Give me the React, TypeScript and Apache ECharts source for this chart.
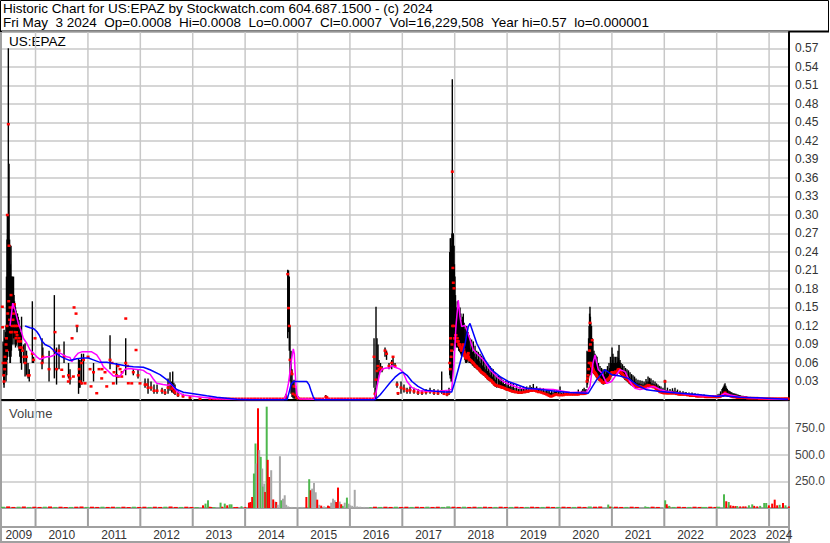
import React, { useEffect, useRef } from 'react';
import * as echarts from 'echarts';

// ---------- axis setup ----------
const X_MIN = 2009.36;
const X_MAX = 2024.38;
const PRICE_MAX = 0.5964;
const VOL_MAX = 1000;

const yearStarts = [2010, 2011, 2012, 2013, 2014, 2015, 2016, 2017, 2018, 2019, 2020, 2021, 2022, 2023, 2024];
const yearLabels = ['2009', '2010', '2011', '2012', '2013', '2014', '2015', '2016', '2017', '2018', '2019', '2020', '2021', '2022', '2023', '2024'];

const headerLine1 = 'Historic Chart for US:EPAZ by Stockwatch.com 604.687.1500 - (c) 2024';
const headerLine2 = 'Fri May  3 2024  Op=0.0008  Hi=0.0008  Lo=0.0007  Cl=0.0007  Vol=16,229,508  Year hi=0.57  lo=0.000001';

// ---------- price bars: [date, low, high, close] ----------
const bars2009 = [
  [2009.366, 0.151, 0.151, 0.151], [2009.372, 0.118, 0.118, 0.118],
  [2009.380, 0.040, 0.095, 0.060], [2009.392, 0.025, 0.090, 0.040], [2009.399, 0.020, 0.114, 0.030],
  [2009.410, 0.030, 0.100, 0.050], [2009.418, 0.045, 0.080, 0.070], [2009.428, 0.050, 0.110, 0.060],
  [2009.437, 0.030, 0.120, 0.090], [2009.445, 0.060, 0.200, 0.100], [2009.450, 0.040, 0.110, 0.080],
  [2009.456, 0.065, 0.260, 0.120], [2009.462, 0.070, 0.300, 0.300], [2009.470, 0.070, 0.300, 0.140],
  [2009.481, 0.080, 0.570, 0.447], [2009.488, 0.080, 0.300, 0.160], [2009.494, 0.080, 0.383, 0.250],
  [2009.505, 0.070, 0.260, 0.130], [2009.513, 0.060, 0.251, 0.150], [2009.520, 0.060, 0.220, 0.110],
  [2009.532, 0.070, 0.250, 0.170], [2009.540, 0.080, 0.200, 0.110], [2009.548, 0.090, 0.200, 0.120],
  [2009.561, 0.113, 0.200, 0.150], [2009.570, 0.090, 0.190, 0.130], [2009.580, 0.100, 0.200, 0.140],
  [2009.590, 0.100, 0.170, 0.120], [2009.599, 0.114, 0.160, 0.155], [2009.608, 0.090, 0.155, 0.110],
  [2009.618, 0.085, 0.150, 0.120], [2009.628, 0.088, 0.145, 0.100], [2009.637, 0.090, 0.140, 0.110],
  [2009.646, 0.095, 0.140, 0.105], [2009.656, 0.100, 0.140, 0.120], [2009.670, 0.085, 0.135, 0.095],
  [2009.685, 0.080, 0.130, 0.100], [2009.700, 0.070, 0.120, 0.085], [2009.714, 0.060, 0.110, 0.095],
  [2009.733, 0.049, 0.135, 0.085], [2009.752, 0.080, 0.080, 0.080], [2009.775, 0.060, 0.090, 0.070],
  [2009.800, 0.038, 0.092, 0.060], [2009.828, 0.040, 0.080, 0.070], [2009.857, 0.035, 0.060, 0.040],
  [2009.880, 0.030, 0.050, 0.040], [2009.939, 0.060, 0.160, 0.075], [2009.962, 0.060, 0.070, 0.065],
  [2009.990, 0.100, 0.100, 0.100],
];

const bars2010 = [
  [2010.124, 0.050, 0.100, 0.060], [2010.140, 0.060, 0.085, 0.070], [2010.258, 0.030, 0.080, 0.050],
  [2010.359, 0.035, 0.170, 0.080], [2010.372, 0.110, 0.110, 0.110], [2010.401, 0.025, 0.085, 0.050],
  [2010.448, 0.050, 0.090, 0.080], [2010.500, 0.049, 0.049, 0.049], [2010.531, 0.038, 0.038, 0.038],
  [2010.544, 0.060, 0.095, 0.070], [2010.626, 0.030, 0.030, 0.030], [2010.630, 0.035, 0.060, 0.040],
  [2010.658, 0.025, 0.050, 0.035], [2010.697, 0.100, 0.100, 0.100], [2010.722, 0.038, 0.038, 0.038],
  [2010.735, 0.150, 0.150, 0.150], [2010.773, 0.140, 0.140, 0.140], [2010.792, 0.110, 0.120, 0.120],
  [2010.821, 0.010, 0.068, 0.040], [2010.835, 0.020, 0.065, 0.050], [2010.849, 0.020, 0.065, 0.030],
  [2010.878, 0.025, 0.075, 0.060], [2010.882, 0.027, 0.027, 0.027], [2010.916, 0.030, 0.075, 0.065],
  [2010.945, 0.027, 0.027, 0.027], [2011.002, 0.070, 0.070, 0.070], [2011.040, 0.050, 0.050, 0.050],
  [2011.059, 0.022, 0.022, 0.022], [2011.107, 0.030, 0.060, 0.045], [2011.168, 0.011, 0.011, 0.011],
  [2011.212, 0.050, 0.050, 0.050], [2011.263, 0.035, 0.035, 0.035], [2011.269, 0.050, 0.050, 0.050],
  [2011.326, 0.038, 0.038, 0.045], [2011.359, 0.022, 0.022, 0.022], [2011.422, 0.050, 0.105, 0.065],
  [2011.460, 0.060, 0.060, 0.060], [2011.485, 0.027, 0.027, 0.027], [2011.498, 0.045, 0.045, 0.045],
  [2011.546, 0.025, 0.060, 0.040], [2011.574, 0.055, 0.055, 0.055], [2011.580, 0.038, 0.038, 0.038],
  [2011.613, 0.050, 0.050, 0.050], [2011.645, 0.038, 0.038, 0.038], [2011.651, 0.045, 0.045, 0.045],
  [2011.721, 0.040, 0.100, 0.060], [2011.722, 0.132, 0.132, 0.132], [2011.756, 0.055, 0.055, 0.055],
  [2011.771, 0.027, 0.027, 0.027], [2011.836, 0.027, 0.027, 0.027], [2011.866, 0.040, 0.050, 0.045],
  [2011.918, 0.081, 0.081, 0.081], [2011.956, 0.035, 0.050, 0.040], [2011.994, 0.027, 0.027, 0.027],
  [2012.090, 0.020, 0.035, 0.025], [2012.122, 0.025, 0.025, 0.025], [2012.147, 0.010, 0.035, 0.020],
  [2012.204, 0.015, 0.030, 0.020], [2012.261, 0.010, 0.025, 0.015], [2012.319, 0.010, 0.025, 0.015],
  [2012.414, 0.010, 0.020, 0.015], [2012.471, 0.008, 0.018, 0.012], [2012.529, 0.010, 0.035, 0.020],
  [2012.567, 0.015, 0.045, 0.025], [2012.600, 0.012, 0.030, 0.018], [2012.618, 0.012, 0.046, 0.020],
  [2012.640, 0.010, 0.028, 0.015], [2012.662, 0.008, 0.025, 0.012], [2012.719, 0.005, 0.015, 0.008],
  [2012.815, 0.004, 0.010, 0.006], [2012.948, 0.002, 0.006, 0.004], [2013.139, 0.002, 0.003, 0.002],
  [2013.330, 0.002, 0.002, 0.002],
];

const barsFlat = [
  [2013.40, 0.002, 0.002, 0.002], [2013.46, 0.002, 0.002, 0.002], [2013.52, 0.002, 0.002, 0.002],
  [2013.58, 0.002, 0.002, 0.002], [2013.64, 0.002, 0.002, 0.002], [2013.70, 0.002, 0.002, 0.002],
  [2013.76, 0.002, 0.002, 0.002], [2013.82, 0.002, 0.002, 0.002], [2013.88, 0.002, 0.002, 0.002],
  [2013.94, 0.002, 0.002, 0.002], [2014.00, 0.002, 0.002, 0.002], [2014.06, 0.002, 0.002, 0.002],
  [2014.12, 0.002, 0.002, 0.002], [2014.18, 0.002, 0.002, 0.002], [2014.24, 0.002, 0.002, 0.002],
  [2014.30, 0.002, 0.002, 0.002], [2014.36, 0.002, 0.002, 0.002], [2014.42, 0.002, 0.002, 0.002],
  [2014.48, 0.002, 0.002, 0.002], [2014.54, 0.002, 0.002, 0.002], [2014.60, 0.002, 0.002, 0.002],
  [2014.66, 0.002, 0.002, 0.002], [2014.72, 0.002, 0.002, 0.002],
  [2015.06, 0.002, 0.002, 0.002], [2015.12, 0.002, 0.002, 0.002], [2015.18, 0.002, 0.002, 0.002],
  [2015.24, 0.002, 0.002, 0.002], [2015.30, 0.002, 0.002, 0.002], [2015.36, 0.002, 0.002, 0.002],
  [2015.42, 0.002, 0.002, 0.002], [2015.48, 0.002, 0.002, 0.002], [2015.60, 0.002, 0.002, 0.002],
  [2015.66, 0.002, 0.002, 0.002], [2015.72, 0.002, 0.002, 0.002], [2015.78, 0.002, 0.002, 0.002],
  [2015.84, 0.002, 0.002, 0.002], [2015.90, 0.002, 0.002, 0.002], [2015.96, 0.002, 0.002, 0.002],
  [2016.02, 0.002, 0.002, 0.002], [2016.08, 0.002, 0.002, 0.002], [2016.14, 0.002, 0.002, 0.002],
  [2016.20, 0.002, 0.002, 0.002], [2016.26, 0.002, 0.002, 0.002], [2016.32, 0.002, 0.002, 0.002],
  [2016.38, 0.002, 0.002, 0.002], [2016.44, 0.002, 0.002, 0.002],
];

const bars2014 = [
  [2014.781, 0.000, 0.010, 0.005], [2014.813, 0.100, 0.211, 0.204], [2014.828, 0.110, 0.210, 0.149],
  [2014.843, 0.080, 0.200, 0.120], [2014.857, 0.030, 0.120, 0.065], [2014.876, 0.010, 0.080, 0.046],
  [2014.895, 0.005, 0.050, 0.042], [2014.914, 0.003, 0.030, 0.010], [2014.933, 0.002, 0.033, 0.022],
  [2014.952, 0.002, 0.020, 0.008], [2014.981, 0.001, 0.010, 0.004], [2015.010, 0.000, 0.006, 0.003],
  [2015.540, 0.002, 0.008, 0.005], [2015.560, 0.002, 0.006, 0.004],
];

const bars2016 = [
  [2016.460, 0.020, 0.100, 0.070], [2016.479, 0.000, 0.020, 0.010], [2016.498, 0.000, 0.151, 0.033],
  [2016.517, 0.024, 0.100, 0.047], [2016.536, 0.030, 0.090, 0.055], [2016.556, 0.040, 0.065, 0.050],
  [2016.584, 0.045, 0.060, 0.052], [2016.613, 0.045, 0.055, 0.050], [2016.670, 0.070, 0.085, 0.080],
  [2016.699, 0.065, 0.080, 0.075], [2016.746, 0.050, 0.060, 0.055], [2016.798, 0.050, 0.065, 0.060],
  [2016.823, 0.055, 0.068, 0.070], [2016.861, 0.052, 0.060, 0.055], [2016.899, 0.020, 0.030, 0.025],
  [2016.918, 0.008, 0.012, 0.011], [2016.975, 0.010, 0.030, 0.020], [2017.032, 0.012, 0.025, 0.018],
  [2017.090, 0.010, 0.020, 0.015], [2017.147, 0.010, 0.022, 0.016], [2017.223, 0.010, 0.020, 0.014],
  [2017.300, 0.008, 0.018, 0.012], [2017.376, 0.008, 0.016, 0.012], [2017.452, 0.009, 0.018, 0.013],
  [2017.529, 0.010, 0.020, 0.014], [2017.605, 0.008, 0.018, 0.012], [2017.681, 0.008, 0.017, 0.011],
  [2017.752, 0.010, 0.046, 0.014], [2017.796, 0.008, 0.016, 0.010], [2017.853, 0.006, 0.014, 0.009],
  [2017.891, 0.008, 0.020, 0.012],
];

const bars2018 = [
  [2017.905, 0.040, 0.240, 0.060], [2017.915, 0.035, 0.262, 0.050], [2017.923, 0.035, 0.262, 0.100],
  [2017.932, 0.030, 0.250, 0.070], [2017.940, 0.030, 0.200, 0.080], [2017.947, 0.035, 0.270, 0.090],
  [2017.954, 0.035, 0.520, 0.370], [2017.960, 0.060, 0.270, 0.120], [2017.965, 0.100, 0.270, 0.214],
  [2017.973, 0.100, 0.270, 0.190], [2017.980, 0.090, 0.250, 0.120], [2017.986, 0.080, 0.250, 0.181],
  [2017.995, 0.085, 0.220, 0.100], [2018.005, 0.090, 0.200, 0.100], [2018.015, 0.095, 0.170, 0.105],
  [2018.024, 0.100, 0.140, 0.105], [2018.037, 0.085, 0.150, 0.095], [2018.049, 0.090, 0.160, 0.100],
  [2018.058, 0.085, 0.130, 0.095], [2018.068, 0.085, 0.155, 0.095], [2018.077, 0.080, 0.120, 0.090],
  [2018.085, 0.080, 0.150, 0.090], [2018.093, 0.078, 0.125, 0.088], [2018.101, 0.080, 0.150, 0.090],
  [2018.109, 0.076, 0.115, 0.085], [2018.117, 0.075, 0.140, 0.085], [2018.125, 0.072, 0.110, 0.082],
  [2018.133, 0.070, 0.130, 0.080], [2018.141, 0.072, 0.112, 0.082], [2018.149, 0.075, 0.135, 0.085],
  [2018.157, 0.078, 0.118, 0.088], [2018.164, 0.080, 0.140, 0.090], [2018.172, 0.075, 0.110, 0.082],
  [2018.180, 0.070, 0.125, 0.078], [2018.188, 0.068, 0.100, 0.075], [2018.196, 0.065, 0.115, 0.072],
  [2018.205, 0.062, 0.095, 0.070], [2018.213, 0.060, 0.120, 0.068], [2018.221, 0.060, 0.095, 0.068],
  [2018.229, 0.060, 0.120, 0.068], [2018.237, 0.062, 0.092, 0.070], [2018.244, 0.065, 0.110, 0.072],
  [2018.252, 0.068, 0.090, 0.074], [2018.259, 0.070, 0.110, 0.076], [2018.267, 0.065, 0.088, 0.070],
  [2018.275, 0.060, 0.105, 0.066], [2018.283, 0.060, 0.085, 0.065], [2018.292, 0.060, 0.100, 0.065],
  [2018.307, 0.059, 0.082, 0.064], [2018.323, 0.058, 0.098, 0.063], [2018.339, 0.056, 0.078, 0.061],
  [2018.355, 0.055, 0.095, 0.060], [2018.371, 0.053, 0.075, 0.058], [2018.388, 0.052, 0.088, 0.056],
  [2018.404, 0.051, 0.070, 0.055], [2018.420, 0.050, 0.080, 0.054], [2018.436, 0.049, 0.066, 0.052],
  [2018.451, 0.048, 0.078, 0.051], [2018.467, 0.046, 0.063, 0.050], [2018.483, 0.045, 0.075, 0.048],
  [2018.499, 0.043, 0.060, 0.046], [2018.515, 0.042, 0.072, 0.045], [2018.531, 0.041, 0.056, 0.044],
  [2018.546, 0.040, 0.070, 0.043], [2018.562, 0.039, 0.053, 0.042], [2018.578, 0.038, 0.065, 0.041],
  [2018.594, 0.036, 0.050, 0.039], [2018.611, 0.035, 0.060, 0.038], [2018.626, 0.033, 0.047, 0.036],
  [2018.642, 0.032, 0.058, 0.035], [2018.658, 0.031, 0.044, 0.034], [2018.674, 0.030, 0.055, 0.033],
  [2018.690, 0.029, 0.041, 0.032], [2018.705, 0.028, 0.052, 0.031], [2018.720, 0.026, 0.038, 0.029],
  [2018.736, 0.025, 0.050, 0.028], [2018.752, 0.023, 0.035, 0.026], [2018.768, 0.022, 0.045, 0.025],
  [2018.785, 0.021, 0.033, 0.024], [2018.801, 0.020, 0.040, 0.023], [2018.833, 0.020, 0.040, 0.023],
  [2018.849, 0.020, 0.031, 0.022], [2018.865, 0.020, 0.038, 0.022], [2018.880, 0.019, 0.029, 0.021],
  [2018.896, 0.019, 0.035, 0.021], [2018.912, 0.018, 0.027, 0.020], [2018.927, 0.018, 0.032, 0.020],
  [2018.951, 0.017, 0.026, 0.019], [2018.975, 0.016, 0.031, 0.018], [2018.999, 0.015, 0.024, 0.017],
  [2019.023, 0.015, 0.030, 0.017], [2019.047, 0.014, 0.022, 0.016], [2019.070, 0.013, 0.028, 0.015],
  [2019.094, 0.012, 0.021, 0.014], [2019.118, 0.012, 0.026, 0.014], [2019.150, 0.011, 0.020, 0.013],
  [2019.182, 0.011, 0.024, 0.013], [2019.214, 0.010, 0.018, 0.012], [2019.246, 0.010, 0.022, 0.012],
  [2019.278, 0.010, 0.018, 0.012], [2019.310, 0.011, 0.022, 0.013], [2019.342, 0.011, 0.019, 0.013],
  [2019.374, 0.012, 0.022, 0.014], [2019.405, 0.012, 0.020, 0.014], [2019.437, 0.013, 0.024, 0.015],
  [2019.468, 0.013, 0.021, 0.015], [2019.500, 0.014, 0.026, 0.016], [2019.532, 0.013, 0.020, 0.015],
  [2019.564, 0.013, 0.022, 0.014], [2019.596, 0.012, 0.018, 0.013], [2019.628, 0.012, 0.020, 0.013],
  [2019.660, 0.011, 0.016, 0.012], [2019.692, 0.010, 0.019, 0.011], [2019.724, 0.009, 0.015, 0.010],
  [2019.756, 0.008, 0.018, 0.009], [2019.780, 0.007, 0.014, 0.008], [2019.803, 0.006, 0.016, 0.007],
  [2019.827, 0.005, 0.012, 0.006], [2019.851, 0.005, 0.015, 0.006], [2019.875, 0.006, 0.012, 0.007],
  [2019.899, 0.007, 0.016, 0.008], [2019.923, 0.008, 0.013, 0.009], [2019.947, 0.008, 0.016, 0.009],
  [2019.978, 0.007, 0.013, 0.008], [2020.010, 0.007, 0.022, 0.008], [2020.041, 0.007, 0.012, 0.008],
  [2020.073, 0.007, 0.014, 0.008], [2020.105, 0.008, 0.012, 0.009], [2020.136, 0.008, 0.013, 0.009],
  [2020.168, 0.008, 0.012, 0.009], [2020.200, 0.008, 0.013, 0.009], [2020.232, 0.008, 0.012, 0.009],
  [2020.264, 0.008, 0.013, 0.009], [2020.296, 0.008, 0.012, 0.009], [2020.328, 0.008, 0.013, 0.009],
  [2020.359, 0.008, 0.017, 0.009], [2020.390, 0.009, 0.013, 0.010], [2020.420, 0.009, 0.015, 0.010],
  [2020.445, 0.009, 0.018, 0.010], [2020.470, 0.009, 0.020, 0.010], [2020.490, 0.010, 0.016, 0.011],
  [2020.505, 0.010, 0.018, 0.011],
];

const bars2020 = [
  [2020.525, 0.020, 0.080, 0.030], [2020.535, 0.025, 0.078, 0.035], [2020.545, 0.030, 0.076, 0.040],
  [2020.555, 0.035, 0.100, 0.050], [2020.565, 0.040, 0.120, 0.060], [2020.574, 0.040, 0.140, 0.080],
  [2020.582, 0.040, 0.151, 0.125], [2020.590, 0.045, 0.135, 0.090], [2020.597, 0.050, 0.125, 0.060],
  [2020.604, 0.050, 0.100, 0.058], [2020.611, 0.050, 0.120, 0.055], [2020.618, 0.048, 0.090, 0.055],
  [2020.625, 0.045, 0.100, 0.097], [2020.632, 0.045, 0.080, 0.052], [2020.639, 0.045, 0.095, 0.050],
  [2020.648, 0.043, 0.070, 0.048], [2020.658, 0.042, 0.080, 0.046], [2020.667, 0.041, 0.065, 0.045],
  [2020.677, 0.040, 0.075, 0.044], [2020.687, 0.039, 0.060, 0.043], [2020.697, 0.038, 0.072, 0.042],
  [2020.706, 0.036, 0.058, 0.040], [2020.716, 0.035, 0.070, 0.039], [2020.730, 0.034, 0.052, 0.037],
  [2020.745, 0.032, 0.060, 0.035], [2020.759, 0.031, 0.048, 0.034], [2020.773, 0.030, 0.055, 0.033],
  [2020.788, 0.029, 0.045, 0.032], [2020.802, 0.028, 0.052, 0.031], [2020.816, 0.026, 0.042, 0.029],
  [2020.830, 0.025, 0.050, 0.028], [2020.845, 0.025, 0.040, 0.028], [2020.859, 0.026, 0.050, 0.028],
  [2020.873, 0.027, 0.042, 0.029], [2020.888, 0.028, 0.050, 0.030], [2020.902, 0.029, 0.045, 0.032],
  [2020.916, 0.030, 0.055, 0.033], [2020.930, 0.030, 0.048, 0.034], [2020.945, 0.030, 0.060, 0.035],
  [2020.959, 0.032, 0.052, 0.037], [2020.973, 0.035, 0.070, 0.040], [2020.988, 0.038, 0.060, 0.043],
  [2021.002, 0.040, 0.085, 0.045], [2021.011, 0.040, 0.065, 0.044], [2021.020, 0.040, 0.075, 0.044],
  [2021.030, 0.040, 0.060, 0.044], [2021.040, 0.040, 0.070, 0.044], [2021.054, 0.041, 0.060, 0.045],
  [2021.068, 0.042, 0.070, 0.046], [2021.083, 0.041, 0.060, 0.045], [2021.097, 0.040, 0.070, 0.045],
  [2021.107, 0.042, 0.062, 0.047], [2021.117, 0.045, 0.080, 0.049], [2021.126, 0.045, 0.068, 0.049],
  [2021.136, 0.045, 0.089, 0.050], [2021.145, 0.043, 0.062, 0.048], [2021.155, 0.042, 0.065, 0.046],
  [2021.164, 0.041, 0.055, 0.045], [2021.174, 0.040, 0.060, 0.044], [2021.188, 0.039, 0.052, 0.043],
  [2021.202, 0.038, 0.058, 0.042], [2021.217, 0.036, 0.048, 0.040], [2021.231, 0.035, 0.055, 0.039],
  [2021.245, 0.033, 0.045, 0.037], [2021.260, 0.032, 0.052, 0.036], [2021.274, 0.031, 0.043, 0.035],
  [2021.288, 0.030, 0.050, 0.034], [2021.303, 0.029, 0.041, 0.033], [2021.317, 0.028, 0.048, 0.032],
  [2021.331, 0.026, 0.038, 0.030], [2021.346, 0.025, 0.045, 0.029], [2021.360, 0.024, 0.035, 0.028],
  [2021.375, 0.024, 0.042, 0.027], [2021.389, 0.023, 0.033, 0.026], [2021.403, 0.022, 0.040, 0.025],
  [2021.418, 0.021, 0.031, 0.024], [2021.432, 0.021, 0.038, 0.024], [2021.446, 0.020, 0.029, 0.023],
  [2021.460, 0.020, 0.035, 0.023], [2021.479, 0.020, 0.028, 0.022], [2021.498, 0.020, 0.033, 0.022],
  [2021.518, 0.020, 0.027, 0.022], [2021.537, 0.020, 0.032, 0.022], [2021.556, 0.019, 0.026, 0.021],
  [2021.575, 0.019, 0.031, 0.021], [2021.594, 0.018, 0.025, 0.020], [2021.613, 0.018, 0.030, 0.020],
  [2021.632, 0.019, 0.027, 0.021], [2021.651, 0.020, 0.034, 0.022], [2021.670, 0.021, 0.030, 0.023],
  [2021.690, 0.022, 0.038, 0.024], [2021.704, 0.021, 0.030, 0.024], [2021.718, 0.021, 0.036, 0.023],
  [2021.732, 0.020, 0.029, 0.022], [2021.746, 0.020, 0.035, 0.022], [2021.766, 0.020, 0.027, 0.022],
  [2021.785, 0.020, 0.032, 0.021], [2021.804, 0.020, 0.026, 0.021], [2021.823, 0.020, 0.030, 0.021],
  [2021.837, 0.018, 0.024, 0.019], [2021.851, 0.017, 0.027, 0.018], [2021.865, 0.016, 0.022, 0.017],
  [2021.880, 0.015, 0.025, 0.016], [2021.894, 0.014, 0.020, 0.015], [2021.908, 0.013, 0.023, 0.014],
  [2021.922, 0.012, 0.018, 0.013], [2021.937, 0.012, 0.022, 0.013], [2021.956, 0.011, 0.017, 0.012],
  [2021.975, 0.011, 0.020, 0.012], [2021.994, 0.010, 0.016, 0.011], [2022.013, 0.010, 0.033, 0.030],
  [2022.036, 0.010, 0.016, 0.011], [2022.060, 0.010, 0.020, 0.011], [2022.084, 0.010, 0.015, 0.011],
  [2022.109, 0.010, 0.018, 0.011], [2022.132, 0.010, 0.015, 0.011], [2022.156, 0.010, 0.019, 0.011],
  [2022.180, 0.010, 0.015, 0.011], [2022.204, 0.010, 0.020, 0.011], [2022.228, 0.009, 0.014, 0.010],
  [2022.252, 0.009, 0.017, 0.010], [2022.276, 0.008, 0.013, 0.009], [2022.300, 0.008, 0.015, 0.009],
  [2022.328, 0.008, 0.012, 0.009], [2022.357, 0.008, 0.014, 0.009], [2022.385, 0.008, 0.012, 0.009],
  [2022.414, 0.008, 0.013, 0.009], [2022.442, 0.007, 0.011, 0.008], [2022.471, 0.007, 0.012, 0.008],
  [2022.500, 0.006, 0.010, 0.007], [2022.529, 0.006, 0.012, 0.007], [2022.557, 0.006, 0.010, 0.007],
  [2022.586, 0.006, 0.011, 0.007], [2022.614, 0.005, 0.009, 0.006], [2022.643, 0.005, 0.010, 0.006],
  [2022.672, 0.005, 0.008, 0.006], [2022.700, 0.005, 0.009, 0.006], [2022.729, 0.005, 0.008, 0.006],
  [2022.758, 0.005, 0.009, 0.006], [2022.786, 0.004, 0.007, 0.005], [2022.815, 0.004, 0.008, 0.005],
  [2022.844, 0.004, 0.007, 0.005], [2022.873, 0.004, 0.008, 0.005], [2022.901, 0.004, 0.007, 0.005],
  [2022.930, 0.004, 0.008, 0.005], [2022.958, 0.004, 0.007, 0.005], [2022.987, 0.004, 0.008, 0.005],
  [2023.016, 0.004, 0.009, 0.005], [2023.045, 0.004, 0.010, 0.005], [2023.074, 0.004, 0.014, 0.006],
  [2023.102, 0.005, 0.018, 0.007], [2023.116, 0.005, 0.020, 0.008], [2023.130, 0.006, 0.022, 0.009],
  [2023.145, 0.007, 0.025, 0.010], [2023.159, 0.008, 0.027, 0.012], [2023.174, 0.007, 0.023, 0.010],
  [2023.188, 0.007, 0.020, 0.009], [2023.202, 0.006, 0.018, 0.008], [2023.216, 0.006, 0.016, 0.008],
  [2023.235, 0.005, 0.015, 0.007], [2023.254, 0.005, 0.014, 0.007], [2023.273, 0.005, 0.013, 0.006],
  [2023.292, 0.005, 0.012, 0.006], [2023.311, 0.004, 0.011, 0.005], [2023.330, 0.004, 0.011, 0.005],
  [2023.349, 0.004, 0.010, 0.005], [2023.368, 0.004, 0.010, 0.005], [2023.387, 0.003, 0.009, 0.004],
  [2023.406, 0.003, 0.009, 0.004], [2023.425, 0.003, 0.008, 0.004], [2023.445, 0.003, 0.008, 0.004],
  [2023.473, 0.003, 0.007, 0.004], [2023.502, 0.003, 0.007, 0.004], [2023.530, 0.003, 0.006, 0.004],
  [2023.559, 0.003, 0.006, 0.004], [2023.588, 0.002, 0.005, 0.003], [2023.616, 0.002, 0.005, 0.003],
  [2023.645, 0.002, 0.005, 0.003], [2023.674, 0.002, 0.005, 0.003], [2023.702, 0.002, 0.004, 0.003],
  [2023.731, 0.002, 0.004, 0.003], [2023.760, 0.002, 0.004, 0.003], [2023.788, 0.002, 0.004, 0.003],
  [2023.817, 0.001, 0.003, 0.002], [2023.846, 0.001, 0.003, 0.002], [2023.874, 0.001, 0.003, 0.002],
  [2023.903, 0.001, 0.003, 0.002], [2023.932, 0.001, 0.003, 0.002], [2023.960, 0.001, 0.003, 0.002],
  [2023.989, 0.001, 0.003, 0.002], [2024.017, 0.001, 0.003, 0.002], [2024.046, 0.001, 0.002, 0.002],
  [2024.074, 0.001, 0.002, 0.002], [2024.103, 0.001, 0.002, 0.002], [2024.131, 0.001, 0.002, 0.002],
  [2024.160, 0.001, 0.002, 0.002], [2024.188, 0.001, 0.002, 0.002], [2024.217, 0.001, 0.002, 0.002],
  [2024.246, 0.001, 0.002, 0.002], [2024.273, 0.001, 0.002, 0.002], [2024.300, 0.001, 0.002, 0.002],
  [2024.320, 0.001, 0.002, 0.002], [2024.341, 0.001, 0.002, 0.002], [2024.365, 0.001, 0.002, 0.002],
];

// ---------- moving averages: [date, value] ----------
const maShort = [
  [2009.513, 0.120], [2009.565, 0.157], [2009.609, 0.146], [2009.672, 0.124], [2009.718, 0.114],
  [2009.767, 0.100], [2009.832, 0.092], [2009.895, 0.081], [2009.958, 0.076], [2010.023, 0.070],
  [2010.086, 0.066], [2010.149, 0.068], [2010.214, 0.070], [2010.277, 0.070], [2010.340, 0.072],
  [2010.405, 0.076], [2010.468, 0.076], [2010.531, 0.073], [2010.595, 0.070], [2010.658, 0.069],
  [2010.691, 0.062], [2010.754, 0.070], [2010.817, 0.076], [2010.882, 0.078], [2010.977, 0.078],
  [2011.072, 0.078], [2011.168, 0.073], [2011.231, 0.065], [2011.294, 0.054], [2011.359, 0.049],
  [2011.422, 0.044], [2011.485, 0.039], [2011.613, 0.039], [2011.708, 0.050], [2011.803, 0.051],
  [2011.899, 0.050], [2011.994, 0.049], [2012.057, 0.048], [2012.122, 0.044], [2012.185, 0.042],
  [2012.248, 0.034], [2012.313, 0.027], [2012.433, 0.025], [2012.529, 0.024], [2012.586, 0.026],
  [2012.643, 0.020], [2012.700, 0.014], [2012.821, 0.008], [2013.139, 0.005], [2013.458, 0.002],
  [2013.903, 0.001], [2014.742, 0.001], [2014.781, 0.008], [2014.825, 0.026], [2014.857, 0.046],
  [2014.885, 0.065], [2014.920, 0.083], [2014.939, 0.075], [2014.952, 0.050], [2014.971, 0.022],
  [2014.990, 0.008], [2015.028, 0.002], [2015.429, 0.001], [2016.460, 0.001], [2016.498, 0.012],
  [2016.536, 0.030], [2016.574, 0.045], [2016.613, 0.050], [2016.689, 0.052], [2016.765, 0.052],
  [2016.798, 0.056], [2016.861, 0.053], [2016.956, 0.050], [2017.013, 0.045], [2017.090, 0.030],
  [2017.185, 0.020], [2017.338, 0.015], [2017.529, 0.014], [2017.719, 0.014], [2017.872, 0.016],
  [2017.943, 0.017], [2017.986, 0.060], [2018.024, 0.120], [2018.068, 0.162], [2018.101, 0.135],
  [2018.133, 0.119], [2018.196, 0.121], [2018.259, 0.107], [2018.355, 0.081], [2018.450, 0.073],
  [2018.546, 0.065], [2018.674, 0.049], [2018.801, 0.038], [2018.927, 0.030], [2019.055, 0.025],
  [2019.246, 0.019], [2019.565, 0.018], [2019.882, 0.017], [2020.200, 0.012], [2020.519, 0.013],
  [2020.582, 0.022], [2020.639, 0.060], [2020.677, 0.073], [2020.741, 0.049], [2020.806, 0.044],
  [2020.901, 0.027], [2020.996, 0.030], [2021.059, 0.038], [2021.155, 0.049], [2021.250, 0.046],
  [2021.313, 0.035], [2021.378, 0.025], [2021.441, 0.019], [2021.537, 0.017], [2021.664, 0.019],
  [2021.790, 0.022], [2021.918, 0.017], [2022.045, 0.014], [2022.300, 0.011], [2022.681, 0.007],
  [2023.063, 0.006], [2023.159, 0.011], [2023.254, 0.008], [2023.445, 0.005], [2023.763, 0.003],
  [2024.080, 0.0015], [2024.361, 0.001],
];

const maLong = [
  [2009.800, 0.120], [2009.895, 0.117], [2009.958, 0.116], [2010.023, 0.111], [2010.072, 0.105],
  [2010.118, 0.096], [2010.181, 0.090], [2010.277, 0.086], [2010.340, 0.081], [2010.405, 0.075],
  [2010.468, 0.071], [2010.563, 0.067], [2010.658, 0.064], [2010.786, 0.067], [2010.912, 0.068],
  [2011.008, 0.068], [2011.103, 0.065], [2011.231, 0.061], [2011.359, 0.061], [2011.485, 0.059],
  [2011.613, 0.057], [2011.740, 0.055], [2011.866, 0.054], [2012.057, 0.053], [2012.122, 0.051],
  [2012.185, 0.049], [2012.376, 0.041], [2012.504, 0.033], [2012.567, 0.028], [2012.694, 0.017],
  [2012.821, 0.0125], [2013.076, 0.0095], [2013.267, 0.007], [2013.458, 0.0046], [2013.649, 0.003],
  [2013.840, 0.0014], [2014.093, 0.0005], [2014.800, 0.0005], [2014.838, 0.012], [2014.876, 0.025],
  [2014.924, 0.030], [2015.176, 0.030], [2015.219, 0.025], [2015.258, 0.015], [2015.296, 0.006],
  [2015.334, 0.0005], [2016.479, 0.0005], [2016.574, 0.008], [2016.670, 0.018], [2016.765, 0.028],
  [2016.861, 0.037], [2016.956, 0.0435], [2017.013, 0.045], [2017.090, 0.040], [2017.185, 0.030],
  [2017.300, 0.022], [2017.433, 0.016], [2017.624, 0.014], [2017.815, 0.013], [2017.943, 0.013],
  [2018.005, 0.030], [2018.101, 0.060], [2018.196, 0.090], [2018.259, 0.119], [2018.292, 0.124],
  [2018.420, 0.092], [2018.578, 0.065], [2018.706, 0.049], [2018.865, 0.038], [2019.023, 0.030],
  [2019.183, 0.025], [2019.374, 0.019], [2019.565, 0.018], [2019.882, 0.0146], [2020.200, 0.012],
  [2020.550, 0.011], [2020.710, 0.033], [2020.868, 0.049], [2020.996, 0.041], [2021.155, 0.039],
  [2021.313, 0.035], [2021.473, 0.0246], [2021.664, 0.0165], [2021.918, 0.0138], [2022.300, 0.011],
  [2022.681, 0.0084], [2023.000, 0.0057], [2023.126, 0.0068], [2023.445, 0.0046], [2023.954, 0.003],
  [2024.361, 0.0014],
];

// ---------- volume: [date, volume, direction u=up d=down n=unchanged] ----------
const volumeMain: [number, number, string][] = [
  [2013.154, 25, 'd'], [2013.202, 41, 'u'], [2013.250, 72, 'u'], [2013.279, 12, 'd'], [2013.311, 10, 'd'],
  [2013.489, 50, 'u'], [2013.521, 12, 'd'], [2013.569, 41, 'u'], [2013.616, 25, 'd'], [2013.664, 34, 'u'],
  [2013.698, 34, 'u'], [2013.750, 8, 'd'], [2013.807, 10, 'd'], [2013.889, 16, 'u'], [2013.960, 10, 'd'],
  [2014.031, 50, 'd'], [2014.061, 56, 'd'], [2014.093, 103, 'd'], [2014.126, 322, 'u'], [2014.156, 603, 'u'],
  [2014.175, 416, 'n'], [2014.204, 932, 'd'], [2014.227, 541, 'n'], [2014.256, 478, 'u'], [2014.284, 369, 'n'],
  [2014.303, 200, 'u'], [2014.323, 228, 'n'], [2014.342, 150, 'd'], [2014.370, 947, 'u'], [2014.389, 450, 'd'],
  [2014.418, 290, 'd'], [2014.456, 353, 'n'], [2014.494, 80, 'd'], [2014.532, 60, 'n'], [2014.551, 56, 'd'],
  [2014.580, 30, 'n'], [2014.622, 484, 'n'], [2014.647, 72, 'u'], [2014.681, 87, 'n'], [2014.714, 119, 'n'],
  [2014.742, 30, 'n'], [2014.781, 15, 'n'], [2014.85, 10, 'n'], [2014.95, 8, 'n'], [2015.05, 10, 'n'],
  [2015.127, 103, 'd'], [2015.181, 269, 'u'], [2015.210, 166, 'd'], [2015.238, 181, 'n'], [2015.273, 234, 'n'],
  [2015.305, 147, 'n'], [2015.334, 78, 'd'], [2015.372, 30, 'n'], [2015.410, 22, 'd'], [2015.467, 15, 'n'],
  [2015.540, 22, 'd'], [2015.573, 16, 'd'], [2015.601, 50, 'n'], [2015.636, 87, 'n'], [2015.668, 72, 'n'],
  [2015.696, 56, 'd'], [2015.731, 191, 'd'], [2015.764, 60, 'n'], [2015.792, 35, 'd'], [2015.821, 20, 'u'],
  [2015.859, 50, 'n'], [2015.901, 97, 'u'], [2015.935, 40, 'n'], [2015.964, 25, 'n'], [2016.002, 20, 'n'],
  [2016.050, 170, 'n'], [2016.098, 15, 'n'], [2016.155, 12, 'n'], [2016.231, 10, 'n'], [2016.308, 8, 'n'],
  [2020.888, 32, 'u'], [2020.926, 12, 'd'], [2021.594, 15, 'u'], [2021.727, 10, 'd'], [2021.975, 72, 'u'],
  [2022.004, 35, 'd'], [2022.052, 20, 'u'], [2022.681, 10, 'u'],
  [2023.098, 128, 'u'], [2023.140, 63, 'd'], [2023.188, 56, 'u'], [2023.222, 25, 'd'], [2023.273, 20, 'd'],
  [2023.317, 18, 'd'], [2023.350, 18, 'u'], [2023.407, 15, 'd'], [2023.464, 15, 'd'], [2023.508, 15, 'd'],
  [2023.573, 25, 'u'], [2023.636, 34, 'u'], [2023.674, 20, 'd'], [2023.731, 15, 'd'], [2023.788, 20, 'u'],
  [2023.865, 47, 'u'], [2023.903, 47, 'u'], [2023.954, 25, 'd'], [2024.017, 41, 'd'], [2024.065, 78, 'd'],
  [2024.112, 25, 'd'], [2024.160, 30, 'u'], [2024.223, 47, 'd'], [2024.271, 25, 'u'], [2024.336, 15, 'd'],
];

const volumeBase: [number, number, string][] = [
  [2009.40, 12, 'u'], [2009.50, 15, 'd'], [2009.60, 10, 'd'], [2009.70, 12, 'u'], [2009.80, 14, 'd'],
  [2009.90, 10, 'u'], [2010.00, 12, 'd'], [2010.10, 10, 'd'], [2010.20, 12, 'u'], [2010.30, 14, 'd'],
  [2010.40, 10, 'u'], [2010.50, 12, 'd'], [2010.60, 10, 'd'], [2010.70, 10, 'u'], [2010.80, 12, 'd'],
  [2010.90, 14, 'd'], [2011.00, 10, 'u'], [2011.10, 12, 'd'], [2011.20, 10, 'd'], [2011.30, 12, 'u'],
  [2011.40, 10, 'd'], [2011.50, 12, 'd'], [2011.60, 10, 'u'], [2011.70, 12, 'd'], [2011.80, 10, 'd'],
  [2011.90, 12, 'u'], [2012.00, 10, 'd'], [2012.10, 12, 'd'], [2012.20, 10, 'u'], [2012.30, 12, 'd'],
  [2012.40, 10, 'd'], [2012.50, 12, 'u'], [2012.60, 14, 'd'], [2012.70, 10, 'd'], [2012.80, 10, 'u'],
  [2012.90, 12, 'd'], [2013.00, 10, 'd'], [2013.10, 8, 'u'], [2013.35, 8, 'd'], [2013.42, 8, 'u'],
  [2013.85, 8, 'd'], [2016.40, 8, 'u'], [2016.50, 12, 'd'], [2016.60, 10, 'u'], [2016.70, 12, 'd'],
  [2016.80, 10, 'd'], [2016.90, 12, 'u'], [2017.00, 10, 'd'], [2017.10, 12, 'd'], [2017.20, 10, 'u'],
  [2017.30, 12, 'd'], [2017.40, 10, 'd'], [2017.50, 12, 'u'], [2017.60, 10, 'd'], [2017.70, 12, 'd'],
  [2017.80, 10, 'u'], [2017.90, 15, 'u'], [2018.00, 12, 'd'], [2018.10, 10, 'd'], [2018.20, 12, 'u'],
  [2018.30, 10, 'd'], [2018.40, 12, 'd'], [2018.50, 10, 'u'], [2018.60, 12, 'd'], [2018.70, 10, 'd'],
  [2018.80, 10, 'u'], [2018.90, 12, 'd'], [2019.00, 10, 'd'], [2019.10, 10, 'u'], [2019.20, 12, 'd'],
  [2019.30, 10, 'd'], [2019.40, 10, 'u'], [2019.50, 12, 'd'], [2019.60, 10, 'd'], [2019.70, 10, 'u'],
  [2019.80, 12, 'd'], [2019.90, 10, 'd'], [2020.00, 10, 'u'], [2020.10, 12, 'd'], [2020.20, 10, 'd'],
  [2020.30, 10, 'u'], [2020.40, 12, 'd'], [2020.50, 10, 'd'], [2020.60, 14, 'u'], [2020.70, 12, 'd'],
  [2020.80, 14, 'd'], [2021.00, 12, 'u'], [2021.10, 12, 'd'], [2021.20, 10, 'd'], [2021.30, 10, 'u'],
  [2021.40, 12, 'd'], [2021.50, 10, 'd'], [2021.70, 10, 'u'], [2021.80, 12, 'd'], [2021.90, 10, 'd'],
  [2022.10, 12, 'd'], [2022.20, 10, 'u'], [2022.30, 12, 'd'], [2022.40, 10, 'd'], [2022.50, 10, 'u'],
  [2022.60, 12, 'd'], [2022.70, 10, 'd'], [2022.80, 10, 'u'], [2022.90, 12, 'd'], [2023.00, 10, 'd'],
  [2023.05, 12, 'u'],
];

const dirColor: Record<string, string> = { u: '#4db84d', d: '#ff0000', n: '#a8a8a8' };

const FONT = '"Liberation Sans", Arial, sans-serif';
const GRID_COLOR = '#c8c8c8';

export default function App() {
  const ref = useRef<HTMLDivElement>(null);

  useEffect(() => {
    if (!ref.current) return;
    const chart = echarts.init(ref.current, null, { renderer: 'svg', width: 830, height: 543 });

    const priceBars = [...bars2009, ...bars2010, ...barsFlat, ...bars2014, ...bars2016, ...bars2018, ...bars2020];

    const labelCenters = yearLabels.map((s, i) => {
      const y = 2009 + i;
      const a = Math.max(y, X_MIN);
      const b = Math.min(y + 1, X_MAX);
      return [(a + b) / 2, 0, i];
    });

    const yearLineData = yearStarts.map((y) => [y, 0]);

    const toVol = (arr: [number, number, string][]) =>
      arr.map(([t, v, d]) => ({ value: [t, v], itemStyle: { color: dirColor[d] } }));

    const yearLineSeries = (axisIndex: number, color: string, width: number) => ({
      type: 'custom', xAxisIndex: axisIndex, yAxisIndex: axisIndex, silent: true, z: 1,
      data: yearLineData,
      encode: { x: 0, y: 1 },
      renderItem: (params: any, api: any) => {
        const x = api.coord([api.value(0), 0])[0];
        const cs = params.coordSys;
        return {
          type: 'line',
          shape: { x1: x, y1: cs.y, x2: x, y2: cs.y + cs.height },
          style: { stroke: color, lineWidth: width },
        };
      },
    });

    const xAxisBase = (gridIndex: number, lineColor: string) => ({
      type: 'value', gridIndex, min: X_MIN, max: X_MAX,
      axisLabel: { show: false }, axisTick: { show: false },
      axisLine: { show: true, onZero: false, lineStyle: { color: lineColor, width: 2 } },
      splitLine: { show: false },
    });

    const option: any = {
      animation: false,
      backgroundColor: '#ffffff',
      grid: [
        { left: 2, top: 32, width: 787, height: 368 },
        { left: 2, top: 401, width: 787, height: 107 },
        { left: 2, top: 509, width: 787, height: 18 },
      ],
      xAxis: [xAxisBase(0, '#000'), xAxisBase(1, '#a0a0a0'), xAxisBase(2, '#a0a0a0')],
      yAxis: [
        {
          type: 'value', gridIndex: 0, position: 'right', min: 0, max: PRICE_MAX, interval: 0.03,
          axisTick: { show: false },
          axisLine: { show: true, lineStyle: { color: '#000', width: 2 } },
          axisLabel: {
            margin: 6, color: '#333', fontSize: 12, fontFamily: FONT,
            formatter: (v: number) => (v > 0.001 && v < 0.58 ? v.toFixed(2) : ''),
          },
          splitLine: { show: true, lineStyle: { color: GRID_COLOR, width: 1.5 } },
        },
        {
          type: 'value', gridIndex: 1, position: 'right', min: 0, max: VOL_MAX, interval: 250,
          axisTick: { show: false },
          axisLine: { show: true, lineStyle: { color: '#a0a0a0', width: 2 } },
          axisLabel: {
            margin: 6, color: '#444', fontSize: 12, fontFamily: FONT,
            formatter: (v: number) => (v > 0 && v < VOL_MAX ? v.toFixed(1) : ''),
          },
          splitLine: { show: true, lineStyle: { color: GRID_COLOR, width: 1.5 } },
        },
        {
          type: 'value', gridIndex: 2, position: 'right', min: 0, max: 1,
          axisTick: { show: false }, axisLabel: { show: false },
          axisLine: { show: true, lineStyle: { color: '#a0a0a0', width: 2 } },
          splitLine: { show: false },
        },
      ],
      series: [
        yearLineSeries(0, GRID_COLOR, 1.5),
        yearLineSeries(1, GRID_COLOR, 1.5),
        yearLineSeries(2, '#a0a0a0', 2),
        {
          type: 'bar', xAxisIndex: 1, yAxisIndex: 1, barWidth: 4, silent: true,
          data: toVol(volumeBase), z: 2,
        },
        {
          type: 'bar', xAxisIndex: 1, yAxisIndex: 1, barWidth: 2, silent: true,
          data: toVol(volumeMain), z: 3,
        },
        {
          type: 'custom', xAxisIndex: 0, yAxisIndex: 0, silent: true, z: 3,
          data: priceBars,
          encode: { x: 0, y: [1, 2] },
          renderItem: (params: any, api: any) => {
            const t = api.value(0);
            const a = api.coord([t, api.value(1)]);
            const b = api.coord([t, api.value(2)]);
            if (a[1] - b[1] < 1) return { type: 'group', children: [] };
            return {
              type: 'line',
              shape: { x1: a[0], y1: a[1], x2: a[0], y2: b[1] },
              style: { stroke: '#000', lineWidth: 1.4 },
            };
          },
        },
        {
          type: 'custom', xAxisIndex: 0, yAxisIndex: 0, silent: true, z: 4,
          data: priceBars,
          encode: { x: 0, y: 3 },
          renderItem: (params: any, api: any) => {
            const p = api.coord([api.value(0), api.value(3)]);
            return {
              type: 'rect',
              shape: { x: p[0] - 1.5, y: p[1] - 1.25, width: 3, height: 2.5 },
              style: { fill: '#ff0000' },
            };
          },
        },
        {
          type: 'line', xAxisIndex: 0, yAxisIndex: 0, data: maShort, showSymbol: false, silent: true, z: 5,
          lineStyle: { color: '#ff00ff', width: 1.5 },
        },
        {
          type: 'line', xAxisIndex: 0, yAxisIndex: 0, data: maLong, showSymbol: false, silent: true, z: 6,
          lineStyle: { color: '#0000ff', width: 1.5 },
        },
        {
          type: 'custom', xAxisIndex: 2, yAxisIndex: 2, silent: true, clip: false, z: 5,
          data: labelCenters,
          encode: { x: 0, y: 1 },
          renderItem: (params: any, api: any) => {
            const p = api.coord([api.value(0), 0]);
            return {
              type: 'text',
              x: p[0], y: p[1] + 8,
              style: {
                text: yearLabels[api.value(2)], fill: '#333',
                font: `12px ${FONT}`, textAlign: 'center', textVerticalAlign: 'middle',
              },
            };
          },
        },
      ],
      graphic: [
        { type: 'rect', shape: { x: 0.5, y: 0.5, width: 828, height: 31 }, style: { fill: 'none', stroke: '#000', lineWidth: 1 }, silent: true },
        { type: 'line', shape: { x1: 0, y1: 31.5, x2: 829, y2: 31.5 }, style: { stroke: '#000', lineWidth: 2 }, silent: true },
        { type: 'text', x: 3, y: 8, style: { text: headerLine1, fill: '#000', font: `13.5px ${FONT}`, textVerticalAlign: 'middle' }, silent: true },
        { type: 'text', x: 3, y: 22.5, style: { text: headerLine2, fill: '#000', font: `13.5px ${FONT}`, textVerticalAlign: 'middle' }, silent: true },
        { type: 'text', x: 9, y: 41.5, style: { text: 'US:EPAZ', fill: '#000', font: `13.5px ${FONT}`, textVerticalAlign: 'middle' }, silent: true },
        { type: 'text', x: 9, y: 413.5, style: { text: 'Volume', fill: '#444', font: `13px ${FONT}`, textVerticalAlign: 'middle' }, silent: true },
        { type: 'line', shape: { x1: 1, y1: 32, x2: 1, y2: 543 }, style: { stroke: '#a0a0a0', lineWidth: 2 }, silent: true },
        { type: 'line', shape: { x1: 789, y1: 527, x2: 789, y2: 543 }, style: { stroke: '#a0a0a0', lineWidth: 2 }, silent: true },
        { type: 'line', shape: { x1: 0, y1: 542, x2: 790, y2: 542 }, style: { stroke: '#a0a0a0', lineWidth: 2 }, silent: true },
      ],
    };

    chart.setOption(option);
    return () => chart.dispose();
  }, []);

  return <div ref={ref} style={{ position: 'absolute', left: 0, top: 0, width: 830, height: 543 }} />;
}
